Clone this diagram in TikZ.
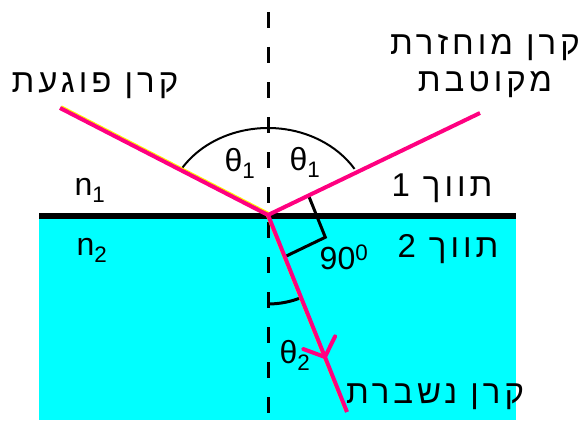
\documentclass[tikz,border=0pt]{standalone}
\usepackage{fontspec}
\setmainfont{Liberation Sans}
\newfontfamily\hebfont[Script=Hebrew,LetterSpace=12]{Liberation Sans}
\TeXXeTstate=1
\usepackage{tikz}
\usetikzlibrary{calc}

\definecolor{raypink}{RGB}{255,0,128}
\definecolor{water}{RGB}{0,255,255}

\begin{document}
\begin{tikzpicture}[x=1pt,y=-1pt,
  ray/.style={raypink,line width=4pt},
  glow/.style={yellow,line width=3pt},
  lbl/.style={font=\fontsize{32}{36}\selectfont,inner sep=0pt},
  heb/.style={lbl,font=\fontsize{33}{37}\selectfont\hebfont,align=center}]
  \useasboundingbox (0,0) rectangle (585,420);
  % the two media
  \fill[water] (39,216) rectangle (516,420);
  \draw[line width=6pt] (39,216) -- (516,216);
  \draw[line width=3pt,dash pattern=on 16pt off 19pt] (268,12) -- (268,420);
  \coordinate (O) at (268,215);
  \coordinate (inc) at (60,108);
  \coordinate (refl) at (480,113);
  \coordinate (refr) at (347,412);
  \coordinate (tip) at ($(O)!153pt!(refr)$);
  % angles
  \draw[line width=2pt] ($(O)+(210.4:102 and 87)$) arc[start angle=210.4, end angle=328, x radius=102, y radius=87];
  \draw[line width=3pt] ($(O)+(90:89)$) arc[start angle=90, end angle=68, radius=89];
  \coordinate (ra1) at ($(O)!45pt!(refl)$);
  \coordinate (ra2) at ($(O)!45pt!(refr)$);
  \draw[line width=3pt] (ra1) -- ($(ra1)+(ra2)-(O)$) -- (ra2);
  % rays
  \draw[glow] ([shift={(1.2,-1.2)}]inc) -- ([shift={(1.2,-1.2)}]O);
  \draw[glow] ([shift={(-1.2,-1.2)}]O) -- ([shift={(-1.2,-1.2)}]refr);
  \draw[ray] (inc) -- (O);
  \draw[ray] (O) -- (refl);
  \draw[ray] (O) -- (refr);
  \draw[ray,line cap=round] ($(tip)!23pt!48:(O)$) -- (tip) -- ($(tip)!23pt!-48:(O)$);
  % labels
  \node[heb] (lblinc) at (95,86) {\beginR קרן פוגעת\endR};
  \node[heb] (lblrefl) at (485,66) {\beginR קרן מוחזרת\endR\\\beginR מקוטבת\endR};
  \node[heb] (lblrefr) at (435,397) {\beginR קרן נשברת\endR};
  \node[heb] (med1) at (442,188) {\beginR תווך 1\endR};
  \node[heb] (med2) at (448,249) {\beginR תווך 2\endR};
  \node[lbl] (th1a) at (240,163) {θ\textsubscript{1}};
  \node[lbl] (th1b) at (305,162) {θ\textsubscript{1}};
  \node[lbl] (th2) at (295,355) {θ\textsubscript{2}};
  \node[lbl] (n1) at (90,190) {n\textsubscript{1}};
  \node[lbl] (n2) at (92,250) {n\textsubscript{2}};
  \node[lbl] (right) at (344,257) {90\textsuperscript{0}};
\end{tikzpicture}
\end{document}
